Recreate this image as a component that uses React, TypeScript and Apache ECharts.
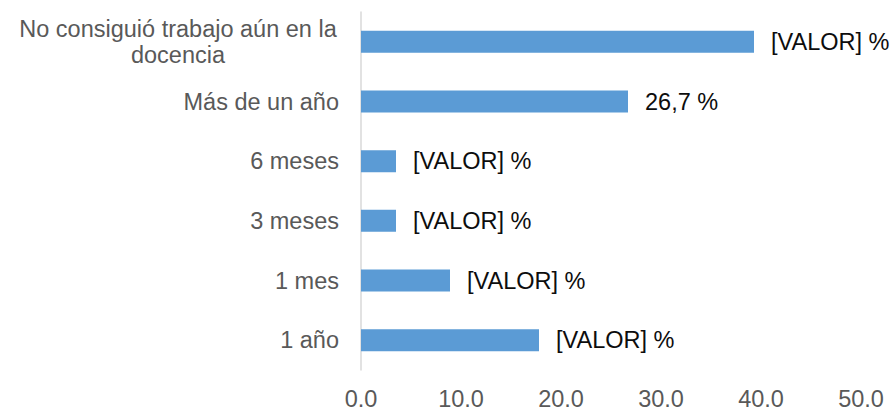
import React, { useEffect, useRef } from "react";
import * as echarts from "echarts";

const categories = [
  "1 año",
  "1 mes",
  "3 meses",
  "6 meses",
  "Más de un año",
  "No consiguió trabajo aún en la docencia",
];
const values = [17.8, 8.9, 3.5, 3.5, 26.7, 39.3];
const valueLabels = ["[VALOR] %", "[VALOR] %", "[VALOR] %", "[VALOR] %", "26,7 %", "[VALOR] %"];
const xMin = 0;
const xMax = 50;
const xInterval = 10;

const FONT = "'Liberation Sans', Arial, sans-serif";
const FS = 23.5;

export default function App() {
  const ref = useRef<HTMLDivElement>(null);
  useEffect(() => {
    if (!ref.current) return;
    const chart = echarts.init(ref.current, undefined, { renderer: "svg" });
    chart.setOption({
      animation: false,
      grid: { left: 361, right: 32, top: 12, bottom: 37, containLabel: false },
      xAxis: {
        type: "value",
        min: xMin,
        max: xMax,
        interval: xInterval,
        splitLine: { show: false },
        axisLine: { show: false },
        axisTick: { show: false },
        axisLabel: {
          color: "#595959",
          fontSize: FS,
          fontFamily: FONT,
          margin: 17,
          formatter: (v: number) => v.toFixed(1),
        },
      },
      yAxis: {
        type: "category",
        data: categories,
        axisLine: { show: true, lineStyle: { color: "#d9d9d9", width: 1.5 } },
        axisTick: { show: false },
        axisLabel: {
          color: "#595959",
          fontSize: FS,
          fontFamily: FONT,
          margin: 22,
          formatter: (v: string) => {
            if (v.length > 25) {
              const words = v.split(" ");
              const first = words.slice(0, 6).join(" ");
              const second = words.slice(6).join(" ");
              return "{c|" + first + "}\n{c|" + second + "}";
            }
            return v;
          },
          rich: {
            c: {
              width: 322,
              align: "center",
              fontSize: FS,
              lineHeight: 26,
              color: "#595959",
              fontFamily: FONT,
            },
          },
        },
      },
      series: [
        {
          type: "bar",
          data: values,
          barWidth: 22,
          itemStyle: { color: "#5B9BD5" },
          label: {
            show: true,
            position: "right",
            distance: 17,
            color: "#0d0d0d",
            fontSize: FS,
            fontFamily: FONT,
            formatter: (p: any) => valueLabels[p.dataIndex],
          },
        },
      ],
    });
    return () => chart.dispose();
  }, []);
  return (
    <div
      ref={ref}
      style={{ position: "absolute", left: 0, top: 0, width: 893, height: 411 }}
    />
  );
}
